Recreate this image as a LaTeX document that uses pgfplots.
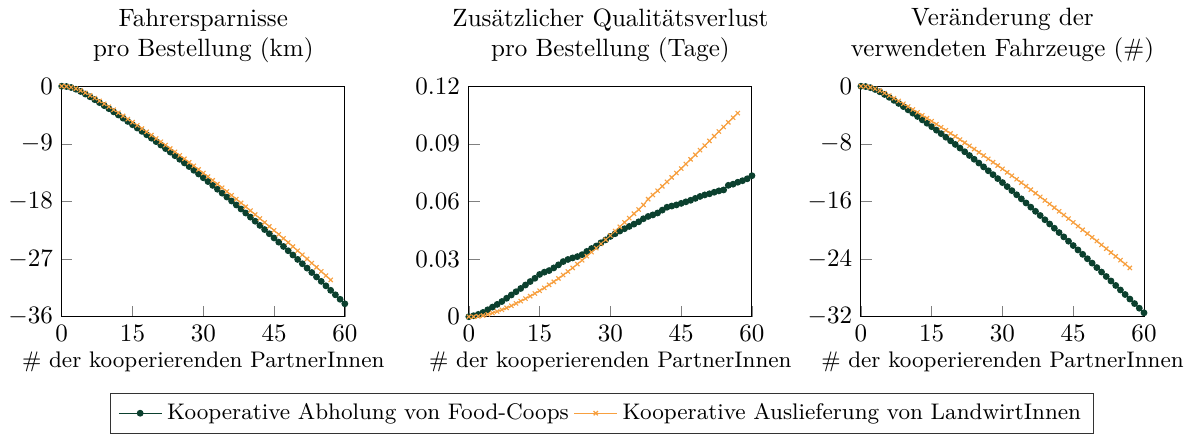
\documentclass[border=0pt]{standalone}
\usepackage{pgfplots}
\usepackage{pgfplotstable}
\pgfplotsset{compat=1.18}
\definecolor{gc}{RGB}{11,64,46}
\definecolor{oc}{RGB}{247,160,64}
\pgfplotstableread{
x g1 g2 g3
0 0 0 0
1 -0.05 0.0005 -0.05
2 -0.20 0.0012 -0.20
3 -0.47 0.0022 -0.45
4 -0.82 0.0036 -0.77
5 -1.22 0.0050 -1.14
6 -1.65 0.0064 -1.54
7 -2.10 0.0079 -1.96
8 -2.56 0.0096 -2.39
9 -3.03 0.0113 -2.83
10 -3.51 0.0130 -3.28
11 -4.00 0.0147 -3.74
12 -4.49 0.0165 -4.20
13 -4.99 0.0183 -4.67
14 -5.50 0.0200 -5.14
15 -6.01 0.0220 -5.62
16 -6.53 0.0232 -6.10
17 -7.05 0.0240 -6.59
18 -7.58 0.0254 -7.08
19 -8.11 0.0270 -7.58
20 -8.65 0.0287 -8.08
21 -9.19 0.0298 -8.59
22 -9.74 0.0306 -9.10
23 -10.29 0.0313 -9.62
24 -10.85 0.0323 -10.14
25 -11.41 0.0340 -10.67
26 -11.98 0.0355 -11.20
27 -12.55 0.0368 -11.74
28 -13.13 0.0385 -12.28
29 -13.71 0.0400 -12.83
30 -14.30 0.0418 -13.38
31 -14.89 0.0432 -13.94
32 -15.49 0.0446 -14.50
33 -16.09 0.0458 -15.07
34 -16.70 0.0470 -15.64
35 -17.31 0.0482 -16.21
36 -17.93 0.0494 -16.79
37 -18.55 0.0510 -17.37
38 -19.18 0.0522 -17.95
39 -19.81 0.0530 -18.54
40 -20.45 0.0540 -19.13
41 -21.09 0.0555 -19.72
42 -21.74 0.0570 -20.32
43 -22.39 0.0576 -20.92
44 -23.04 0.0582 -21.52
45 -23.70 0.0590 -22.12
46 -24.36 0.0598 -22.73
47 -25.03 0.0606 -23.34
48 -25.70 0.0616 -23.95
49 -26.37 0.0626 -24.56
50 -27.05 0.0634 -25.18
51 -27.73 0.0640 -25.80
52 -28.41 0.0648 -26.42
53 -29.10 0.0655 -27.04
54 -29.79 0.0660 -27.66
55 -30.48 0.0684 -28.29
56 -31.18 0.0690 -28.92
57 -31.88 0.0700 -29.55
58 -32.58 0.0708 -30.18
59 -33.28 0.0718 -30.82
60 -33.98 0.0734 -31.46
}\green
\pgfplotstableread{
x o1 o2 o3
0 0 0 0
1 -0.04 0 -0.04
2 -0.16 0.0002 -0.16
3 -0.38 0.0006 -0.36
4 -0.68 0.0012 -0.63
5 -1.04 0.0019 -0.95
6 -1.44 0.0027 -1.30
7 -1.86 0.0036 -1.67
8 -2.30 0.0046 -2.05
9 -2.75 0.0057 -2.44
10 -3.21 0.0069 -2.83
11 -3.68 0.0081 -3.23
12 -4.16 0.0094 -3.63
13 -4.64 0.0107 -4.04
14 -5.13 0.0121 -4.45
15 -5.62 0.0135 -4.86
16 -6.12 0.0150 -5.28
17 -6.62 0.0166 -5.70
18 -7.13 0.0182 -6.12
19 -7.64 0.0199 -6.55
20 -8.16 0.0217 -6.98
21 -8.68 0.0235 -7.41
22 -9.20 0.0254 -7.85
23 -9.73 0.0274 -8.29
24 -10.26 0.0294 -8.73
25 -10.80 0.0315 -9.18
26 -11.34 0.0336 -9.63
27 -11.89 0.0357 -10.09
28 -12.44 0.0379 -10.55
29 -13.00 0.0401 -11.01
30 -13.56 0.0423 -11.48
31 -14.13 0.0446 -11.95
32 -14.70 0.0468 -12.43
33 -15.28 0.0491 -12.91
34 -15.86 0.0513 -13.39
35 -16.45 0.0536 -13.88
36 -17.04 0.0558 -14.37
37 -17.63 0.0582 -14.86
38 -18.23 0.0612 -15.36
39 -18.83 0.0634 -15.86
40 -19.44 0.0656 -16.36
41 -20.05 0.0679 -16.86
42 -20.66 0.0702 -17.37
43 -21.28 0.0725 -17.88
44 -21.90 0.0748 -18.39
45 -22.52 0.0771 -18.90
46 -23.15 0.0795 -19.42
47 -23.78 0.0819 -19.94
48 -24.41 0.0843 -20.46
49 -25.05 0.0867 -20.98
50 -25.69 0.0891 -21.50
51 -26.33 0.0915 -22.03
52 -26.98 0.0940 -22.56
53 -27.63 0.0964 -23.09
54 -28.28 0.0988 -23.62
55 -28.93 0.1012 -24.15
56 -29.59 0.1036 -24.69
57 -30.25 0.1060 -25.23
}\orange
\pgfplotsset{
  panel/.style={
    scale only axis, width=113pt, height=92pt,
    xmin=0, xmax=60, xtick={0,15,30,45,60},
    tick pos=left, clip=false,
    xlabel={\# der kooperierenden PartnerInnen},
    xlabel style={yshift=3pt, font=\small},
    title style={align=center},
  },
  gs/.style={color=gc, mark=*, mark size=1.1pt, line width=0.5pt},
  os/.style={color=oc, mark=x, mark size=1.2pt, line width=0.45pt},
}
\begin{document}
\begin{tikzpicture}
\begin{axis}[panel, at={(-2pt,0pt)},
  title={Fahrersparnisse\\pro Bestellung (km)},
  ymin=-36, ymax=0, ytick={-36,-27,-18,-9,0}]
\addplot[gs] table[x=x,y=g1] {\green};
\addplot[os] table[x=x,y=o1] {\orange};
\end{axis}
\begin{axis}[panel, at={(160.5pt,0pt)},
  title={Zusätzlicher Qualitätsverlust\\pro Bestellung (Tage)},
  ymin=0, ymax=0.12, ytick={0,0.03,0.06,0.09,0.12},
  scaled y ticks=false,
  yticklabel style={/pgf/number format/fixed,/pgf/number format/precision=2},
  legend columns=2,
  legend style={at={(0.5,-0.33)}, anchor=north, xshift=-3.3pt, draw=black!80,
    font=\small, /tikz/every even column/.append style={column sep=0pt}}]
\addplot[gs] table[x=x,y=g2] {\green};
\addlegendentry{Kooperative Abholung von Food-Coops}
\addplot[os] table[x=x,y=o2] {\orange};
\addlegendentry{Kooperative Auslieferung von LandwirtInnen}
\end{axis}
\begin{axis}[panel, at={(317pt,0pt)},
  title={Veränderung der\\verwendeten Fahrzeuge (\#)},
  ymin=-32, ymax=0, ytick={-32,-24,-16,-8,0}]
\addplot[gs] table[x=x,y=g3] {\green};
\addplot[os] table[x=x,y=o3] {\orange};
\end{axis}
\end{tikzpicture}
\end{document}
